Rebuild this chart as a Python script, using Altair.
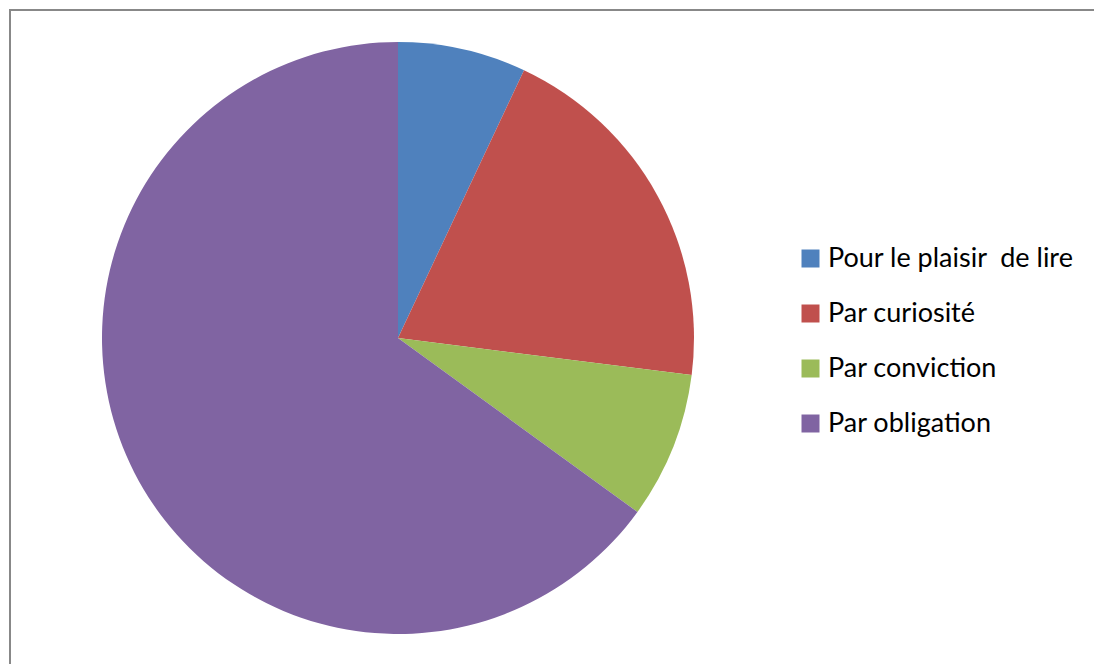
import altair as alt
import pandas as pd

categories = ["Pour le plaisir\u00a0 de lire", "Par curiosité", "Par conviction", "Par obligation"]
values = [7, 20, 8, 65]
colors = ["#4F81BD", "#C0504D", "#9BBB59", "#8064A2"]

df = pd.DataFrame({"cat": categories, "value": values, "idx": list(range(len(categories)))})

W, H = 1084, 700

pie = alt.Chart(df).mark_arc(radius=296, stroke=None).encode(
    theta=alt.Theta("value:Q", stack=True),
    order=alt.Order("idx:Q"),
    color=alt.Color(
        "cat:N",
        scale=alt.Scale(domain=categories, range=colors),
        legend=alt.Legend(
            title=None,
            orient="none",
            legendX=787,
            legendY=235,
            symbolType="square",
            symbolSize=324,
            symbolStrokeWidth=0,
            labelFontSize=27,
            labelFont="Lato",
            labelColor="#000000",
            labelOffset=4,
            rowPadding=27,
            labelLimit=400,
        ),
    ),
    x=alt.value(388),
    y=alt.value(328),
)

left_edge = alt.Chart(df).mark_rule(color="#888888", strokeWidth=2).encode(
    x=alt.value(0), y=alt.value(0), y2=alt.value(H)
)
top_edge = alt.Chart(df).mark_rule(color="#888888", strokeWidth=2).encode(
    y=alt.value(0), x=alt.value(-1), x2=alt.value(W + 10)
)

chart = alt.layer(pie, left_edge, top_edge).properties(
    width=W,
    height=H,
    padding={"left": 2, "top": 2, "right": 0, "bottom": 0},
    autosize=alt.AutoSizeParams(type="none"),
).configure_view(
    stroke=None,
)

chart.save("out.html", embed_options={"renderer": "svg", "actions": False})
